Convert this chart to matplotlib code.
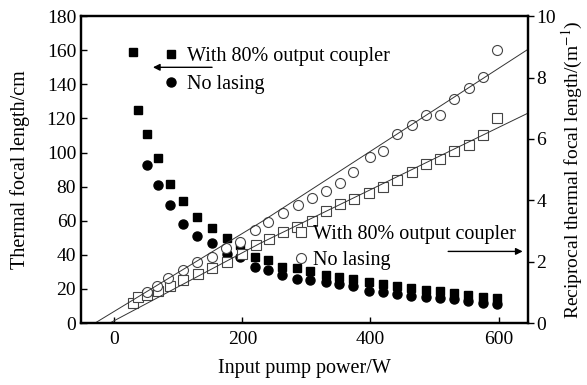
import matplotlib.pyplot as plt

plt.rcParams['font.family'] = ['Liberation Serif', 'DejaVu Serif']
plt.rcParams['mathtext.fontset'] = 'stix'

# thermal focal length (left axis), filled markers
p_f = [29, 37, 51, 68, 87, 107, 129, 153, 176, 197, 219, 240, 262, 286, 306,
       330, 351, 373, 398, 420, 442, 464, 487, 509, 531, 552, 576, 598]
f_oc = [159, 125, 111, 97, 81.5, 71.5, 62, 56, 50, 46, 39, 37, 33, 32, 30.5,
        28, 27, 26, 24, 23, 22, 20.5, 19.5, 18.5, 17.5, 16.5, 15.5, 14.5]
p_fn = [51, 68, 87, 107, 129, 153, 176, 197, 219, 240, 262, 286, 306, 330,
        351, 373, 398, 420, 442, 464, 487, 509, 531, 552, 576, 598]
f_nl = [92.5, 81, 69, 58, 51, 47, 40.5, 38.5, 33, 31, 28, 26, 25, 24,
        23, 22, 18.5, 18, 17, 16, 15, 14.5, 14, 13, 12, 11]

# reciprocal focal length (right axis), open markers
p_rc = [51, 67, 84, 107, 129, 153, 175, 197, 219, 240, 263, 287, 308, 331,
        353, 373, 400, 420, 442, 465, 487, 509, 531, 554, 576, 598]
r_nl = [1.01, 1.21, 1.47, 1.73, 1.99, 2.15, 2.44, 2.64, 3.03, 3.29, 3.58,
        3.84, 4.07, 4.30, 4.56, 4.92, 5.41, 5.60, 6.16, 6.45, 6.78, 6.78,
        7.30, 7.65, 8.01, 8.89]
p_rs = [29, 37, 51, 68, 87, 107, 130, 153, 176, 199, 221, 241, 263, 286, 308,
        331, 353, 375, 398, 420, 442, 465, 487, 509, 531, 554, 576, 598]
r_oc = [0.65, 0.85, 0.91, 1.04, 1.21, 1.40, 1.60, 1.79, 1.99, 2.25, 2.54,
        2.74, 2.96, 3.13, 3.32, 3.65, 3.88, 4.04, 4.23, 4.43, 4.66, 4.92,
        5.18, 5.34, 5.60, 5.80, 6.12, 6.68]

# fitted lines
fit_p_nl = [-30, 230, 646]
fit_r_nl = [0, 3.3, 8.92]
fit_p_oc = [-7, 228, 646]
fit_r_oc = [0, 2.6, 6.84]

fig = plt.figure(figsize=(5.87, 3.85), dpi=100)
ax = fig.add_axes([0.138, 0.161, 0.7615, 0.797])
ax2 = ax.twinx()

ax.plot(p_f, f_oc, 's', color='black', ms=5.8, label='With 80% output coupler')
ax.plot(p_fn, f_nl, 'o', color='black', ms=6.5, label='No lasing')

ax2.plot(p_rs, r_oc, 's', mfc='white', mec='#444444', mew=0.8, ms=6.5,
         label='With 80% output coupler')
ax2.plot(p_rc, r_nl, 'o', mfc='white', mec='#444444', mew=0.8, ms=7.2,
         label='No lasing')
ax2.plot(fit_p_nl, fit_r_nl, color='#333333', lw=0.7)
ax2.plot(fit_p_oc, fit_r_oc, color='#333333', lw=0.7)

ax.set_xlim(-52, 646)
ax.set_ylim(0, 180)
ax2.set_ylim(0, 10)
ax.set_xticks([0, 200, 400, 600])
ax.set_yticks(range(0, 181, 20))
ax2.set_yticks(range(0, 11, 2))

ax.tick_params(axis='both', direction='in', length=4, width=1, labelsize=14)
ax.tick_params(axis='x', pad=6)
ax2.tick_params(axis='y', direction='out', length=4, width=1, labelsize=14,
                pad=2)
for a in (ax, ax2):
    for s in a.spines.values():
        s.set_linewidth(1.6)

ax.set_xlabel('Input pump power/W', fontsize=14.5, labelpad=8)
ax.set_ylabel('Thermal focal length/cm', fontsize=14.5, labelpad=12)
ax2.set_ylabel('Reciprocal thermal focal length/(m$^{-1}$)', fontsize=14,
               labelpad=3)

ax.legend(loc='upper left', bbox_to_anchor=(0.17, 0.925), frameon=False,
          fontsize=14.5, handlelength=0.6, handletextpad=0.5,
          labelspacing=0.45, borderaxespad=0)
ax2.legend(loc='upper left', bbox_to_anchor=(0.46, 0.345), frameon=False,
           fontsize=14.5, handlelength=0.6, handletextpad=0.3,
           labelspacing=0.35, borderaxespad=0)

ax.annotate('', xy=(56, 150), xytext=(157, 150),
            arrowprops=dict(arrowstyle='-|>', color='black', lw=1,
                            mutation_scale=10))
ax.annotate('', xy=(642, 42), xytext=(517, 42),
            arrowprops=dict(arrowstyle='-|>', color='black', lw=1,
                            mutation_scale=10))

fig.savefig('out.png', dpi=100)
